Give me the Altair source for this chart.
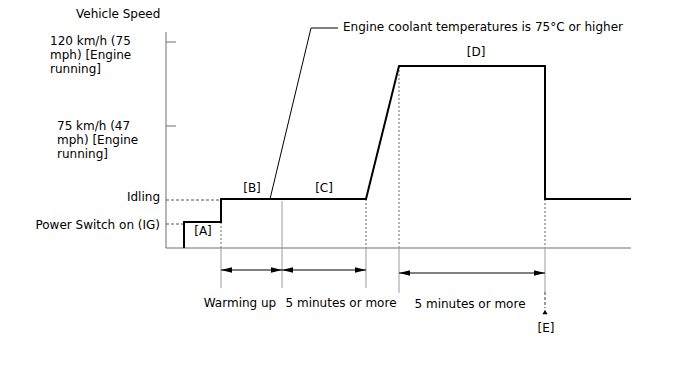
import altair as alt
import pandas as pd

# ---- data (time units on x, speed units on y; origin at axis corner) ----
profile_t = [18, 18, 55, 55, 200, 233, 379, 379, 465]
profile_v = [0, 26, 26, 49, 49, 182, 182, 49, 49]

tick_levels = [122, 206]

guide_levels = [24, 48]
guide_ends = [18, 55]

dot_t = [55, 200, 233, 379]
dot_top = [26, 49, 182, 49]

sol_t = [55, 116, 200, 233, 379]
sol_top = [0, 47, 0, 0, 0]
sol_bot = [-40, -40, -40, -45, -44]

arrow_start = [55, 116, 233]
arrow_end = [116, 200, 379]
arrow_y = [-22, -22, -25]

leader_t = [104, 145, 172]
leader_v = [49, 220, 220]

center_labels = ["[A]", "[B]", "[C]", "[D]", "[E]", "Warming up", "5 minutes or more", "5 minutes or more"]
center_t = [37, 86, 158, 310, 380, 74, 175, 304]
center_v = [17, 60, 60, 196, -80, -55, -55, -56]

left_labels = ["Vehicle Speed", "120 km/h (75", "mph) [Engine", "running]",
               "75 km/h (47", "mph) [Engine", "running]",
               "Engine coolant temperatures is 75°C or higher"]
left_t = [-90, -116, -116, -116, -109, -109, -109, 177]
left_v = [234, 207, 193, 179, 122, 108, 94, 221]

right_labels = ["Idling", "Power Switch on (IG)"]
right_t = [-6, -6]
right_v = [51, 23]

# ---- scales ----
xs = alt.Scale(domain=[-158, 514], nice=False, zero=False)
ys = alt.Scale(domain=[-110, 240], nice=False, zero=False)
FONT = "DejaVu Sans"

def X(f="t"):
    return alt.X(f"{f}:Q", scale=xs, axis=None)

def Y(f="v"):
    return alt.Y(f"{f}:Q", scale=ys, axis=None)

# axes frame
frame = pd.DataFrame({"t": [0, 0], "t2": [0, 465], "v": [0, 0], "v2": [216, 0]})
frame_layer = alt.Chart(frame).mark_rule(color="#6e6e6e", strokeWidth=1).encode(
    x=X(), x2="t2:Q", y=Y(), y2="v2:Q")

ticks = pd.DataFrame({"t": [0] * len(tick_levels), "t2": [10] * len(tick_levels), "v": tick_levels})
tick_layer = alt.Chart(ticks).mark_rule(color="#6e6e6e", strokeWidth=1).encode(
    x=X(), x2="t2:Q", y=Y())

guides = pd.DataFrame({"t": [0] * len(guide_levels), "t2": guide_ends, "v": guide_levels})
guide_layer = alt.Chart(guides).mark_rule(color="#555555", strokeWidth=1, strokeDash=[3, 2]).encode(
    x=X(), x2="t2:Q", y=Y())

dots = pd.DataFrame({"t": dot_t, "v": dot_top, "v2": [0] * len(dot_t)})
dot_layer = alt.Chart(dots).mark_rule(color="#9a9a9a", strokeWidth=1.5, strokeDash=[2, 2]).encode(
    x=X(), y=Y(), y2="v2:Q")

sols = pd.DataFrame({"t": sol_t, "v": sol_top, "v2": sol_bot})
sol_layer = alt.Chart(sols).mark_rule(color="#9a9a9a", strokeWidth=1).encode(
    x=X(), y=Y(), y2="v2:Q")

e_dash = pd.DataFrame({"t": [379], "v": [-44], "v2": [-60]})
e_dash_layer = alt.Chart(e_dash).mark_rule(color="#777777", strokeWidth=1.5, strokeDash=[3, 2]).encode(
    x=X(), y=Y(), y2="v2:Q")
e_tri = pd.DataFrame({"t": [379], "v": [-64]})
e_tri_layer = alt.Chart(e_tri).mark_point(shape="triangle-up", filled=True, color="black", size=26, opacity=1).encode(
    x=X(), y=Y())

prof = pd.DataFrame({"t": profile_t, "v": profile_v, "i": list(range(len(profile_t)))})
prof_layer = alt.Chart(prof).mark_line(color="black", strokeWidth=2, strokeJoin="miter").encode(
    x=X(), y=Y(), order="i:Q")

arrows = pd.DataFrame({"t": arrow_start, "t2": arrow_end, "v": arrow_y})
arrow_line = alt.Chart(arrows).mark_rule(color="black", strokeWidth=1).encode(
    x=X(), x2="t2:Q", y=Y())
arrow_left = alt.Chart(arrows).mark_point(shape="M0,0L2,-0.5L2,0.5Z", filled=True, color="black",
                                          size=121, opacity=1, strokeWidth=0).encode(x=X(), y=Y())
arrow_right = alt.Chart(arrows).mark_point(shape="M0,0L-2,-0.5L-2,0.5Z", filled=True, color="black",
                                           size=121, opacity=1, strokeWidth=0).encode(x=X("t2"), y=Y())

leader = pd.DataFrame({"t": leader_t, "v": leader_v, "i": list(range(len(leader_t)))})
leader_layer = alt.Chart(leader).mark_line(color="black", strokeWidth=1).encode(
    x=X(), y=Y(), order="i:Q")

ctext = pd.DataFrame({"t": center_t, "v": center_v, "label": center_labels})
ctext_layer = alt.Chart(ctext).mark_text(font=FONT, fontSize=12, color="black", align="center",
                                         baseline="middle").encode(x=X(), y=Y(), text="label:N")
ltext = pd.DataFrame({"t": left_t, "v": left_v, "label": left_labels})
ltext_layer = alt.Chart(ltext).mark_text(font=FONT, fontSize=12, color="black", align="left",
                                         baseline="middle").encode(x=X(), y=Y(), text="label:N")
rtext = pd.DataFrame({"t": right_t, "v": right_v, "label": right_labels})
rtext_layer = alt.Chart(rtext).mark_text(font=FONT, fontSize=12, color="black", align="right",
                                         baseline="middle").encode(x=X(), y=Y(), text="label:N")

chart = alt.layer(
    frame_layer, tick_layer, guide_layer, dot_layer, sol_layer, e_dash_layer, e_tri_layer,
    prof_layer, arrow_line, arrow_left, arrow_right, leader_layer,
    ctext_layer, ltext_layer, rtext_layer,
).properties(
    width=672, height=350, autosize=alt.AutoSizeParams(type="none"), padding=0,
    background="white",
).configure_view(strokeWidth=0)

chart.save("out.html", embed_options={"renderer": "svg", "actions": False})
